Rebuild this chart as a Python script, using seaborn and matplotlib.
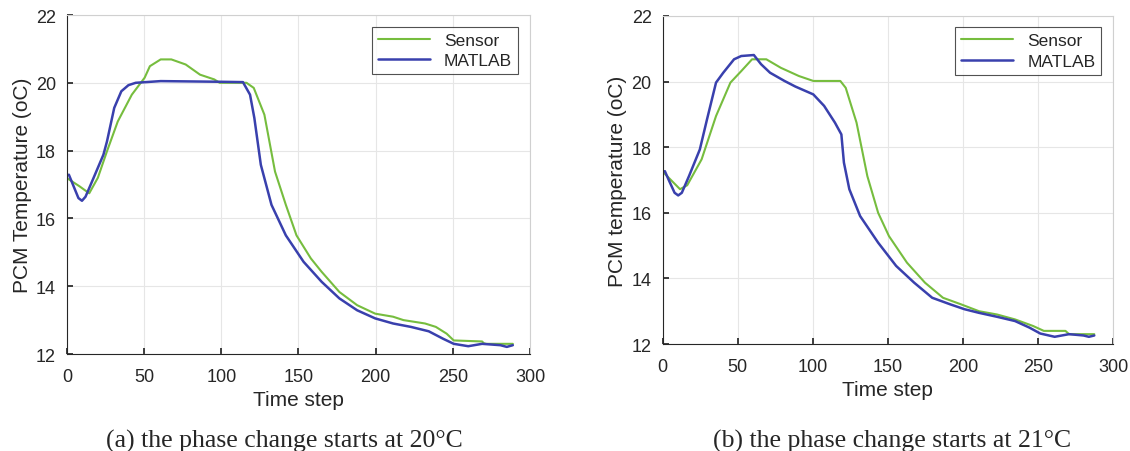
import numpy as np
import pandas as pd
import seaborn as sns
import matplotlib.pyplot as plt

# Values
# (a) phase change starts at 20 oC
a_sensor_t = [0, 1.6, 8, 14.4, 20, 25.9, 32.9, 42, 50.3, 53.7, 60.7, 67.6, 76.9, 86.2, 95.4, 98.9,
              116.3, 121, 127.9, 134.8, 141.8, 148.7, 158, 164.9, 176.5, 188, 199.7, 211.3, 218,
              232, 239, 246, 250.6, 269, 270, 271.5, 288.9]
a_sensor_y = [17.19, 17.14, 16.95, 16.74, 17.2, 17.98, 18.86, 19.65, 20.15, 20.49, 20.69, 20.69,
              20.54, 20.24, 20.1, 20.0, 20.0, 19.85, 19.06, 17.38, 16.4, 15.5, 14.82, 14.43, 13.83,
              13.44, 13.19, 13.1, 13.0, 12.9, 12.8, 12.6, 12.4, 12.37, 12.32, 12.3, 12.3]
a_matlab_t = [1.2, 3.9, 7.4, 9.7, 12, 16.7, 23.6, 25.9, 30.6, 35.2, 39.8, 44.5, 60.7, 100, 114,
              118.6, 121.4, 125.6, 132.5, 141.8, 153.3, 165, 176.5, 188, 199.7, 211.3, 222.8,
              234.4, 243.7, 250.6, 260, 269, 280.8, 285, 288.9]
a_matlab_y = [17.29, 16.99, 16.6, 16.52, 16.64, 17.14, 17.88, 18.27, 19.26, 19.75, 19.93, 20.0,
              20.05, 20.03, 20.02, 19.65, 18.96, 17.58, 16.4, 15.5, 14.72, 14.13, 13.64, 13.29,
              13.05, 12.9, 12.8, 12.67, 12.45, 12.3, 12.23, 12.3, 12.26, 12.21, 12.26]

# (b) phase change starts at 21 oC
b_sensor_t = [0.7, 11.5, 16.3, 25.9, 35.5, 45.1, 52.3, 59.5, 69, 78.7, 90.7, 100.3, 118.3, 121.9,
              129.1, 136.3, 143.5, 150.7, 162.7, 174.7, 186.7, 198.7, 210.7, 222.7, 234.7, 246.7,
              253.9, 268.3, 270.7, 287.5]
b_sensor_y = [17.22, 16.72, 16.84, 17.63, 18.95, 19.97, 20.32, 20.68, 20.68, 20.42, 20.17, 20.02,
              20.02, 19.81, 18.75, 17.12, 16.0, 15.29, 14.48, 13.87, 13.41, 13.21, 13.0, 12.9,
              12.75, 12.55, 12.4, 12.4, 12.3, 12.3]
b_matlab_t = [1.4, 4.3, 7.9, 10.3, 12.7, 17.5, 24.7, 29.5, 35.5, 40.3, 47.5, 52.3, 60.7, 65.5,
              71.5, 81.1, 88.3, 100.3, 107.5, 114.7, 119, 120.7, 124.3, 131.5, 143.5, 155.5,
              167.5, 179.5, 191.5, 201.1, 210.7, 222.7, 234.7, 244.3, 251.5, 261.1, 270.7, 280.3,
              283.9, 287.5]
b_matlab_y = [17.27, 16.97, 16.61, 16.53, 16.61, 17.12, 17.93, 18.85, 19.97, 20.27, 20.68, 20.78,
              20.81, 20.53, 20.27, 20.02, 19.85, 19.61, 19.26, 18.75, 18.39, 17.53, 16.72, 15.9,
              15.09, 14.38, 13.87, 13.41, 13.21, 13.06, 12.95, 12.83, 12.7, 12.5, 12.32, 12.22,
              12.3, 12.26, 12.22, 12.26]

x_ticks = [0, 50, 100, 150, 200, 250, 300]
y_ticks = [12, 14, 16, 18, 20, 22]

sns.set_theme(style='whitegrid')
plt.rcParams['font.family'] = ['Liberation Sans', 'DejaVu Sans']

green = '#76bd3e'
blue = '#3940ad'

fig = plt.figure(figsize=(11.3, 4.52), dpi=100)
ax1 = fig.add_axes([0.0593, 0.2146, 0.4097, 0.75])
ax2 = fig.add_axes([0.5865, 0.2367, 0.3985, 0.7257])

panels = [
    (ax1, a_sensor_t, a_sensor_y, a_matlab_t, a_matlab_y, 'PCM Temperature (oC)'),
    (ax2, b_sensor_t, b_sensor_y, b_matlab_t, b_matlab_y, 'PCM temperature (oC)'),
]

for ax, st, sy, mt, my, ylab in panels:
    df_s = pd.DataFrame({'t': st, 'T': sy})
    df_m = pd.DataFrame({'t': mt, 'T': my})
    sns.lineplot(data=df_s, x='t', y='T', ax=ax, color=green, linewidth=1.5, label='Sensor')
    sns.lineplot(data=df_m, x='t', y='T', ax=ax, color=blue, linewidth=1.8, label='MATLAB')
    ax.set_xlim(0, 300)
    ax.set_ylim(12, 22)
    ax.set_xticks(x_ticks)
    ax.set_yticks(y_ticks)
    ax.set_xlabel('Time step', fontsize=15, color='#262626', labelpad=4)
    ax.set_ylabel(ylab, fontsize=15, color='#262626', labelpad=3)
    ax.tick_params(labelsize=13, colors='#262626', direction='in', length=4,
                   bottom=True, left=True)
    ax.tick_params(axis='x', pad=10)
    ax.tick_params(axis='y', pad=8)
    ax.grid(True, color='#e6e6e6', linewidth=0.8)
    for side in ['top', 'right']:
        ax.spines[side].set_color('#d0d0d0')
        ax.spines[side].set_linewidth(0.8)
    for side in ['bottom', 'left']:
        ax.spines[side].set_color('#262626')
        ax.spines[side].set_linewidth(0.8)
    leg = ax.legend(loc='upper right', fontsize=12.5, frameon=True, fancybox=False,
                    edgecolor='#262626', borderpad=0.35, handlelength=3.0, labelspacing=0.3,
                    borderaxespad=0, bbox_to_anchor=(0.974, 0.966))
    leg.get_frame().set_linewidth(0.8)

fig.text(0.252, 0.024, '(a) the phase change starts at 20\u00b0C', ha='center', va='center',
         fontsize=18.5, family='Liberation Serif')
fig.text(0.789, 0.024, '(b) the phase change starts at 21\u00b0C', ha='center', va='center',
         fontsize=18.5, family='Liberation Serif')

fig.savefig('out.png', dpi=100, facecolor='white')
